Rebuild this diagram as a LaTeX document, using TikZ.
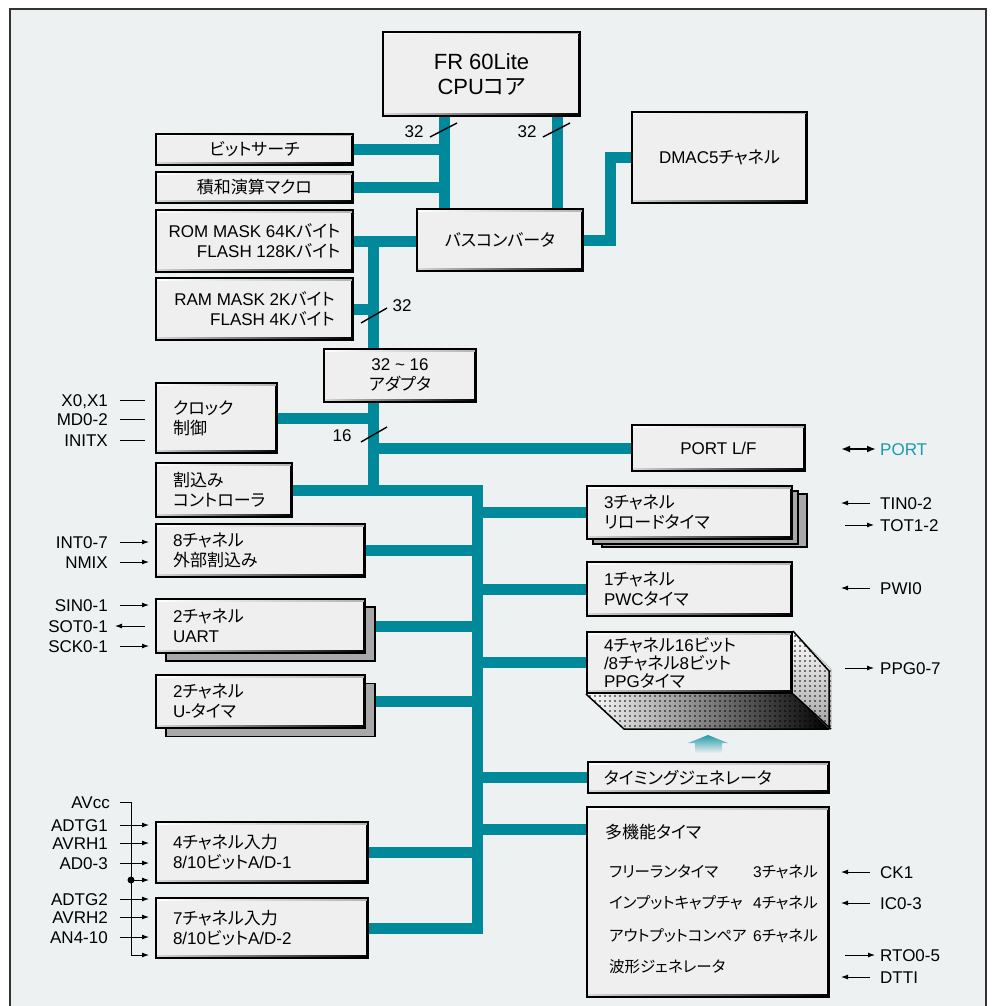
\documentclass[tikz,border=0pt]{standalone}
\usepackage{fontspec}
\setmainfont{Liberation Sans}
\newfontfamily\jpfont[RawFeature=+palt]{Noto Sans CJK JP}
\newcommand{\jp}[1]{{\jpfont #1}}
\newcommand{\fs}{\fontsize{17}{20}\selectfont}
\newcommand{\fss}{\fontsize{15.5}{19}\selectfont}
\usetikzlibrary{arrows.meta,patterns.meta}
\pgfdeclarelayer{back}
\pgfdeclarelayer{buses}
\pgfsetlayers{back,buses,main}

\definecolor{bgcol}{HTML}{EDF1F2}
\definecolor{buscol}{HTML}{00889B}
\definecolor{portcol}{HTML}{1B9AAA}
\definecolor{boxcol}{HTML}{EFEFEF}
\definecolor{shadecol}{HTML}{A8A8A8}

\tikzset{
  box/.style={draw=black, line width=2pt, fill=boxcol, inner sep=0pt, font=\fs, text=black,
    path picture={
      \fill[black] ([xshift=-2.5pt]path picture bounding box.north east)
          rectangle (path picture bounding box.south east);
      \shade[left color=gray!30, right color=black] (path picture bounding box.south west)
          rectangle ([yshift=2.5pt]path picture bounding box.south east);
      \shade[left color=white, right color=gray!60] (path picture bounding box.north west)
          rectangle ([yshift=-2pt]path picture bounding box.north east);
    }},
  lbox/.style={box, align=left, inner xsep=17pt, text width=#1},
  shadowbox/.style={draw=black, line width=1.5pt, fill=shadecol, inner sep=0pt},
  bus/.style={draw=buscol, line width=11pt, line join=miter},
  sig/.style={draw=black, line width=0.9pt, -{Latex[length=7pt,width=5pt]}},
  slash/.style={draw=black, line width=1.4pt},
}

\begin{document}
\begin{tikzpicture}[x=1pt,y=-1pt]
    \useasboundingbox (0,0) rectangle (993,1006);
    \begin{pgfonlayer}{back}
        \fill[bgcol] (10,9) rectangle (986,1006);
        \draw[line width=1.5pt, black!80] (10,1006) -- (10,9) -- (986,9) -- (986,1006);
    \end{pgfonlayer}

    % core, memories, bus converter
    \node[box, minimum width=197pt, minimum height=84pt, align=center,
          font=\fontsize{22}{25}\selectfont] (cpu) at (481.5,74) {FR 60Lite\\CPU\jp{コア}};
    \node[box, minimum width=197pt, minimum height=31pt] (bits) at (254.5,149.5) {\jp{ビットサーチ}};
    \node[box, minimum width=197pt, minimum height=31pt] (mac) at (254.5,187.5) {\jp{積和演算マクロ}};
    \node[box, minimum width=197pt, minimum height=62pt, align=right] (rom) at (254.5,241)
        {ROM MASK 64K\jp{バイト}\\FLASH 128K\jp{バイト}};
    \node[box, minimum width=197pt, minimum height=62pt, align=right] (ram) at (254.5,309)
        {RAM MASK 2K\jp{バイト}\\FLASH 4K\jp{バイト}};
    \node[box, minimum width=166pt, minimum height=62pt] (conv) at (500,240) {\jp{バスコンバータ}};
    \node[box, minimum width=175pt, minimum height=91pt] (dmac) at (719.5,157.5) {DMAC5\jp{チャネル}};
    \node[box, minimum width=152pt, minimum height=53pt, align=center] (adapt) at (400,375.5)
        {32 \textasciitilde{} 16\\\jp{アダプタ}};

    % left column
    \node[lbox=87pt, minimum height=70pt] (clock) at (216.5,418) {\jp{クロック}\\\jp{制御}};
    \node[lbox=102pt, minimum height=54pt] (irq) at (224,490) {\jp{割込み}\\\jp{コントローラ}};
    \node[lbox=175pt, minimum height=53pt] (ext) at (260.5,550.5) {8\jp{チャネル}\\\jp{外部割込み}};
    \node[shadowbox, minimum width=209pt, minimum height=54pt] (uartS) at (270.5,634) {};
    \node[lbox=175pt, minimum height=54pt] (uart) at (260.5,626) {2\jp{チャネル}\\UART};
    \node[shadowbox, minimum width=209pt, minimum height=53pt] (utimS) at (270.5,710) {};
    \node[lbox=175pt, minimum height=53pt] (utim) at (260.5,701.5) {2\jp{チャネル}\\U-\jp{タイマ}};
    \node[lbox=178pt, minimum height=61pt] (ad1) at (262,852.5) {4\jp{チャネル入力}\\8/10\jp{ビット}A/D-1};
    \node[lbox=178pt, minimum height=60pt] (ad2) at (262,928) {7\jp{チャネル入力}\\8/10\jp{ビット}A/D-2};

    % right column
    \node[box, minimum width=173pt, minimum height=46pt] (port) at (718.5,448) {PORT L/F};
    \node[shadowbox, minimum width=205pt, minimum height=53pt] (reloadS2) at (704.5,520.5) {};
    \node[shadowbox, minimum width=205pt, minimum height=53pt] (reloadS1) at (695.5,517.5) {};
    \node[lbox=171pt, minimum height=53pt] (reload) at (689.5,512.5) {3\jp{チャネル}\\\jp{リロードタイマ}};
    \node[lbox=171pt, minimum height=54pt] (pwc) at (689.5,589) {1\jp{チャネル}\\PWC\jp{タイマ}};
    \node[lbox=171pt, minimum height=61pt, font=\fontsize{17}{18}\selectfont] (ppg) at (689.5,662.5)
        {4\jp{チャネル}16\jp{ビット}\\/8\jp{チャネル}8\jp{ビット}\\PPG\jp{タイマ}};
    \begin{scope}[line width=1.5pt, line join=round]
        \fill[left color=white, right color=black]
            (ppg.south west) -- ++(38,35) -- ++(205,0) -- (ppg.south east) -- cycle;
        \fill[top color=white, bottom color=gray!70]
            (ppg.north east) -- ++(38,38) -- ++(0,58) -- (ppg.south east) -- cycle;
        \fill[pattern={Dots[distance=5pt,radius=0.8pt]}, pattern color=black]
            (ppg.south west) -- ++(38,35) -- ++(205,0) -- (ppg.south east) -- cycle;
        \fill[pattern={Dots[distance=5pt,radius=0.8pt]}, pattern color=black]
            (ppg.north east) -- ++(38,38) -- ++(0,58) -- (ppg.south east) -- cycle;
        \draw (ppg.south west) -- ++(38,35) -- ++(205,0) -- ++(0,-58) -- (ppg.north east);
        \draw (ppg.south east) -- ++(38,35);
    \end{scope}
    \shade[top color=buscol!85, bottom color=bgcol]
        (708,735) -- (728,743) -- (722,743) -- (722,753) -- (695,753) -- (695,743) -- (688,743) -- cycle;
    \node[lbox=209pt, minimum height=31pt, inner xsep=16pt] (tgen) at (708.5,777.5) {\jp{タイミングジェネレータ}};
    \node[box, minimum width=242pt, minimum height=190pt] (multi) at (708,902) {};

    % multi function timer contents
    \begin{scope}[every node/.style={font=\fss, anchor=west, inner sep=0pt}]
        \node[font=\fs] (mTitle) at (605,832) {\jp{多機能タイマ}};
        \node (mFrt) at (609,872) {\jp{フリーランタイマ}};
        \node (mFrtN) at (753,872) {3\jp{チャネル}};
        \node (mIcu) at (609,903) {\jp{インプットキャプチャ}};
        \node (mIcuN) at (753,903) {4\jp{チャネル}};
        \node (mOcu) at (609,936) {\jp{アウトプットコンペア}};
        \node (mOcuN) at (753,936) {6\jp{チャネル}};
        \node (mWave) at (609,967) {\jp{波形ジェネレータ}};
    \end{scope}

    % bus widths
    \begin{scope}[every node/.style={font=\fs, inner sep=0pt, text height=12pt, text depth=0pt}]
        \node (n32a) at (414,132) {32};
        \node (n32b) at (527,132) {32};
        \node (n32c) at (402,305) {32};
        \node (n16) at (342,435) {16};
    \end{scope}
    \draw[slash] (430,137) -- (457,123);
    \draw[slash] (543,137) -- (570,123);
    \draw[slash] (361,323) -- (387,308);
    \draw[slash] (361,442) -- (387,427);

    % buses
    \begin{pgfonlayer}{buses}
        \coordinate (xA) at (444,0);
        \coordinate (xB) at (557,0);
        \coordinate (xC) at (373,0);
        \coordinate (xD) at (477,0);
        \coordinate (xE) at (610,0);
        \coordinate (yM) at (0,829);
        \draw[bus] (cpu.south -| xA) -- (conv.north -| xA);
        \draw[bus] (cpu.south -| xB) -- (conv.north -| xB);
        \draw[bus] (bits.east) -- (bits.east -| xA);
        \draw[bus] (mac.east) -- (mac.east -| xA);
        \draw[bus] (conv.east) -- (conv.east -| xE) -- (dmac.west -| xE) -- (dmac.west);
        \draw[bus] (rom.east) -- (rom.east -| conv.west);
        \draw[bus] (rom.east -| xC) -- (adapt.north -| xC);
        \draw[bus] (ram.east) -- (ram.east -| xC);
        \draw[bus] (adapt.south -| xC) -- (irq.east -| xC);
        \draw[bus] (clock.east) -- (clock.east -| xC);
        \draw[bus] (port.west -| xC) -- (port.west);
        \draw[bus] (irq.east) -- (irq.east -| xD) -- (ad2.east -| xD) -- (ad2.east);
        \draw[bus] (ext.east) -- (ext.east -| xD);
        \draw[bus] (uart.east) -- (uart.east -| xD);
        \draw[bus] (utim.east) -- (utim.east -| xD);
        \draw[bus] (ad1.east) -- (ad1.east -| xD);
        \draw[bus] (reload.west -| xD) -- (reload.west);
        \draw[bus] (pwc.west -| xD) -- (pwc.west);
        \draw[bus] (ppg.west -| xD) -- (ppg.west);
        \draw[bus] (tgen.west -| xD) -- (tgen.west);
        \draw[bus] (xD |- yM) -- (multi.west |- yM);
    \end{pgfonlayer}

    % external signals, left
    \begin{scope}[every node/.style={font=\fs, anchor=east, inner sep=0pt, text height=12pt, text depth=0pt}]
        \node (lX) at (108,400) {X0,X1};
        \node (lMd) at (108,419) {MD0-2};
        \node (lInit) at (108,440) {INITX};
        \node (lInt) at (108,542) {INT0-7};
        \node (lNmi) at (108,562) {NMIX};
        \node (lSin) at (108,605) {SIN0-1};
        \node (lSot) at (108,626) {SOT0-1};
        \node (lSck) at (108,646) {SCK0-1};
        \node (lAvcc) at (110,802) {AVcc};
        \node (lAdtg1) at (108,825) {ADTG1};
        \node (lAvrh1) at (108,843) {AVRH1};
        \node (lAd) at (108,863) {AD0-3};
        \node (lAdtg2) at (108,899) {ADTG2};
        \node (lAvrh2) at (108,917) {AVRH2};
        \node (lAn) at (108,937) {AN4-10};
    \end{scope}
    \begin{scope}[shorten <=12pt, shorten >=6pt]
        \path [sig, -] (lX.east) edge[shorten >=10pt] (lX.east -| clock.west);
        \path [sig, -] (lMd.east) edge[shorten >=10pt] (lMd.east -| clock.west);
        \path [sig, -] (lInit.east) edge[shorten >=10pt] (lInit.east -| clock.west);
        \draw[sig] (lInt.east) -- (lInt.east -| ext.west);
        \draw[sig] (lNmi.east) -- (lNmi.east -| ext.west);
        \draw[sig] (lSin.east) -- (lSin.east -| uart.west);
        \draw[sig, shorten <=10pt, shorten >=7pt] (lSot.east -| uart.west) -- (lSot.east);
        \draw[sig] (lSck.east) -- (lSck.east -| uart.west);
        \draw[sig] (lAdtg1.east) -- (lAdtg1.east -| ad1.west);
        \draw[sig] (lAvrh1.east) -- (lAvrh1.east -| ad1.west);
        \draw[sig] (lAd.east) -- (lAd.east -| ad1.west);
        \draw[sig] (lAdtg2.east) -- (lAdtg2.east -| ad2.west);
        \draw[sig] (lAvrh2.east) -- (lAvrh2.east -| ad2.west);
        \draw[sig] (lAn.east) -- (lAn.east -| ad2.west);
    \end{scope}
    \coordinate (vTop) at (131,802);
    \coordinate (vDot) at (131,880);
    \coordinate (vEnd) at (131,955);
    \draw[sig, shorten <=10pt, shorten >=6pt] (lAvcc.east) -- (vTop) -- (vEnd) -- (vEnd -| ad2.west);
    \draw[sig, shorten >=6pt] (vDot) -- (vDot -| ad1.west);
    \fill (vDot) circle (3.5pt);

    % external signals, right
    \begin{scope}[every node/.style={font=\fs, anchor=west, inner sep=0pt, text height=12pt, text depth=0pt}]
        \node[text=portcol] (lPort) at (880,449) {PORT};
        \node (lTin) at (880,503) {TIN0-2};
        \node (lTot) at (880,525) {TOT1-2};
        \node (lPwi) at (880,588) {PWI0};
        \node (lPpg) at (880,668) {PPG0-7};
        \node (lCk) at (880,872) {CK1};
        \node (lIc) at (880,903) {IC0-3};
        \node (lRto) at (880,955) {RTO0-5};
        \node (lDtti) at (880,977) {DTTI};
    \end{scope}
    \draw[line width=1.8pt, {Latex[length=9pt,width=7pt]}-{Latex[length=9pt,width=7pt]},
          shorten <=35pt, shorten >=4pt] (port.east |- lPort) -- (lPort.west);
    \draw[sig, shorten <=10pt, shorten >=48pt] (lTin.west) -- (lTin.west -| reload.east);
    \draw[sig, shorten <=52pt, shorten >=6pt] (lTot.west -| reload.east) -- (lTot.west);
    \draw[sig, shorten <=10pt, shorten >=48pt] (lPwi.west) -- (lPwi.west -| pwc.east);
    \draw[sig, shorten <=52pt, shorten >=6pt] (lPpg.west -| ppg.east) -- (lPpg.west);
    \draw[sig, shorten <=10pt, shorten >=11pt] (lCk.west) -- (lCk.west -| multi.east);
    \draw[sig, shorten <=10pt, shorten >=11pt] (lIc.west) -- (lIc.west -| multi.east);
    \draw[sig, shorten <=15pt, shorten >=5pt] (lRto.west -| multi.east) -- (lRto.west);
    \draw[sig, shorten <=10pt, shorten >=11pt] (lDtti.west) -- (lDtti.west -| multi.east);
\end{tikzpicture}
\end{document}
